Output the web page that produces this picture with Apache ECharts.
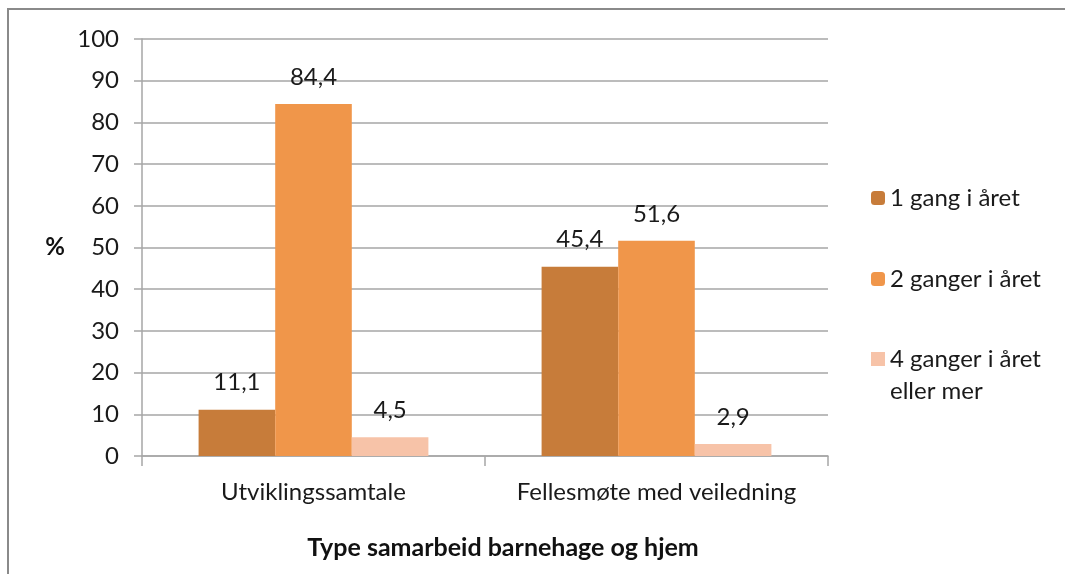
<!DOCTYPE html>
<html>
<head>
<meta charset="utf-8">
<script src="https://cdn.jsdelivr.net/npm/echarts@6/dist/echarts.min.js"></script>
<style>
  html, body { margin: 0; padding: 0; background: #fff; }
  #chart { width: 1065px; height: 574px; }
</style>
</head>
<body>
<div id="chart"></div>
<script>
// data
const categories = ['Utviklingssamtale', 'Fellesmøte med veiledning']
const seriesNames = ['1 gang i året', '2 ganger i året', '4 ganger i året eller mer']
const once = [11.1, 45.4]
const twice = [84.4, 51.6]
const fourTimes = [4.5, 2.9]
const seriesColors = ['#C77C3A', '#F0964A', '#F7C3A8']

const font = 'Lato, "Open Sans", sans-serif'
const chart = echarts.init(document.getElementById('chart'))

const labelStyle = {
  show: true,
  position: 'top',
  distance: 15,
  fontFamily: font,
  fontSize: 24,
  color: '#1a1a1a',
  formatter: p => String(p.value).replace('.', ',')
}

const legendText = {
  fontFamily: font,
  fontSize: 24,
  lineHeight: 32,
  color: '#1a1a1a'
}

chart.setOption({
  animation: false,
  textStyle: { fontFamily: font },
  grid: {
    left: 142,
    right: 237,
    top: 39,
    bottom: 118
  },
  graphic: [{
    type: 'polyline',
    shape: { points: [[8, 574], [8, 9], [1065, 9]] },
    style: { stroke: '#8a8a8a', lineWidth: 2, fill: null }
  }],
  legend: [{
    data: [seriesNames[0]],
    left: 866,
    top: 177,
    itemWidth: 14,
    itemHeight: 14,
    textStyle: legendText
  }, {
    data: [seriesNames[1]],
    left: 866,
    top: 258,
    itemWidth: 14,
    itemHeight: 14,
    textStyle: legendText
  }, {
    data: [{
      name: seriesNames[2],
      icon: 'path://M0,0h14v14h-14zM0,46h14'
    }],
    left: 866,
    top: 338,
    itemWidth: 14,
    itemHeight: 46,
    formatter: () => '4 ganger i året\neller mer',
    textStyle: legendText
  }],
  xAxis: {
    type: 'category',
    data: categories,
    name: 'Type samarbeid barnehage og hjem',
    nameLocation: 'middle',
    nameGap: 79,
    nameTextStyle: {
      fontFamily: font,
      fontSize: 25,
      fontWeight: 'bold',
      color: '#111',
      padding: [0, 0, 0, 36]
    },
    axisLine: { lineStyle: { color: '#a6a6a6', width: 1.5 } },
    axisTick: { show: true, length: 10, lineStyle: { color: '#a6a6a6', width: 1.5 } },
    axisLabel: {
      interval: 0,
      hideOverlap: false,
      margin: 24,
      fontFamily: font,
      fontSize: 24,
      color: '#1a1a1a'
    }
  },
  yAxis: {
    type: 'value',
    min: 0,
    max: 100,
    interval: 10,
    name: '%',
    nameLocation: 'middle',
    nameRotate: 0,
    nameGap: 77,
    nameTextStyle: {
      fontFamily: font,
      fontSize: 24,
      fontWeight: 'bold',
      color: '#111'
    },
    axisLine: { show: true, lineStyle: { color: '#a6a6a6', width: 1.5 } },
    axisTick: { show: true, length: 8, lineStyle: { color: '#a6a6a6', width: 1.5 } },
    splitLine: { lineStyle: { color: '#a6a6a6', width: 1.5 } },
    axisLabel: {
      margin: 23,
      fontFamily: font,
      fontSize: 24,
      color: '#1a1a1a'
    }
  },
  series: [{
    name: seriesNames[0],
    type: 'bar',
    data: once,
    barGap: '0%',
    barCategoryGap: '33%',
    itemStyle: { color: seriesColors[0] },
    label: labelStyle
  }, {
    name: seriesNames[1],
    type: 'bar',
    data: twice,
    barGap: '0%',
    barCategoryGap: '33%',
    itemStyle: { color: seriesColors[1] },
    label: labelStyle
  }, {
    name: seriesNames[2],
    type: 'bar',
    data: fourTimes,
    barGap: '0%',
    barCategoryGap: '33%',
    itemStyle: { color: seriesColors[2] },
    label: labelStyle
  }]
})
</script>
</body>
</html>
